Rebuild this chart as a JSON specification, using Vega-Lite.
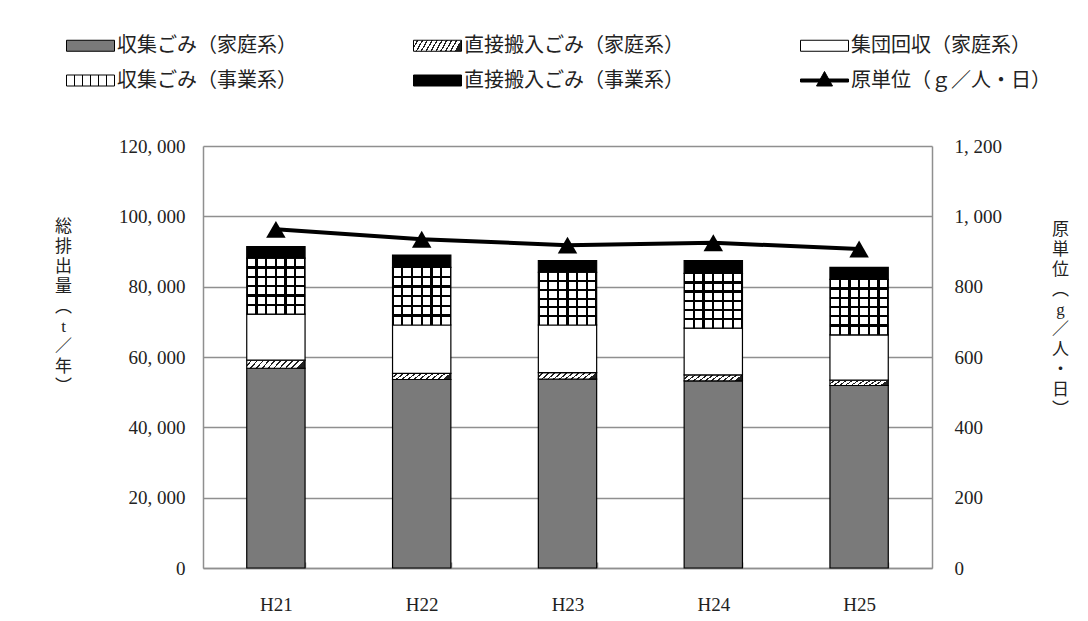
{
  "$schema": "https://vega.github.io/schema/vega-lite/v6.json",
  "width": 729,
  "height": 422,
  "autosize": {"type": "none"},
  "padding": {"left": 203, "top": 146, "right": 156, "bottom": 53},
  "background": "white",
  "config": {"view": {"stroke": null}, "font": "Liberation Serif, Noto Sans CJK JP"},
  "datasets": {
    "waste": [
      {"year": "H21", "series": "収集ごみ（家庭系）", "k": 1, "value": 56800},
      {"year": "H21", "series": "直接搬入ごみ（家庭系）", "k": 2, "value": 2300},
      {"year": "H21", "series": "集団回収（家庭系）", "k": 3, "value": 13100},
      {"year": "H21", "series": "収集ごみ（事業系）", "k": 4, "value": 15900},
      {"year": "H21", "series": "直接搬入ごみ（事業系）", "k": 5, "value": 3300},
      {"year": "H22", "series": "収集ごみ（家庭系）", "k": 1, "value": 53600},
      {"year": "H22", "series": "直接搬入ごみ（家庭系）", "k": 2, "value": 1750},
      {"year": "H22", "series": "集団回収（家庭系）", "k": 3, "value": 13750},
      {"year": "H22", "series": "収集ごみ（事業系）", "k": 4, "value": 16400},
      {"year": "H22", "series": "直接搬入ごみ（事業系）", "k": 5, "value": 3500},
      {"year": "H23", "series": "収集ごみ（家庭系）", "k": 1, "value": 53700},
      {"year": "H23", "series": "直接搬入ごみ（家庭系）", "k": 2, "value": 1850},
      {"year": "H23", "series": "集団回収（家庭系）", "k": 3, "value": 13550},
      {"year": "H23", "series": "収集ごみ（事業系）", "k": 4, "value": 15000},
      {"year": "H23", "series": "直接搬入ごみ（事業系）", "k": 5, "value": 3300},
      {"year": "H24", "series": "収集ごみ（家庭系）", "k": 1, "value": 53200},
      {"year": "H24", "series": "直接搬入ごみ（家庭系）", "k": 2, "value": 1700},
      {"year": "H24", "series": "集団回収（家庭系）", "k": 3, "value": 13300},
      {"year": "H24", "series": "収集ごみ（事業系）", "k": 4, "value": 15600},
      {"year": "H24", "series": "直接搬入ごみ（事業系）", "k": 5, "value": 3600},
      {"year": "H25", "series": "収集ごみ（家庭系）", "k": 1, "value": 51900},
      {"year": "H25", "series": "直接搬入ごみ（家庭系）", "k": 2, "value": 1500},
      {"year": "H25", "series": "集団回収（家庭系）", "k": 3, "value": 12900},
      {"year": "H25", "series": "収集ごみ（事業系）", "k": 4, "value": 15800},
      {"year": "H25", "series": "直接搬入ごみ（事業系）", "k": 5, "value": 3400}
    ],
    "rate": [
      {"year": "H21", "rate": 963},
      {"year": "H22", "rate": 935},
      {"year": "H23", "rate": 918},
      {"year": "H24", "rate": 925},
      {"year": "H25", "rate": 907}
    ]
  },
  "layer": [
    {
      "data": {"name": "waste"},
      "mark": {"type": "bar", "stroke": "black", "strokeWidth": 1.2},
      "encoding": {
        "x": {
          "field": "year", "type": "nominal",
          "scale": {"paddingInner": 0.6, "paddingOuter": 0.3},
          "axis": {
            "title": null, "labelAngle": 0, "labelFont": "Liberation Serif", "labelFontSize": 19, "labelColor": "#222",
            "tickBand": "extent", "tickSize": -6, "tickColor": "#8f8f8f", "tickWidth": 1.5,
            "domainColor": "#8f8f8f", "domainWidth": 1.5, "labelPadding": 33
          }
        },
        "y": {
          "field": "value", "type": "quantitative", "stack": "zero",
          "scale": {"domain": [0, 120000], "nice": false},
          "axis": {
            "orient": "left",
            "values": [0, 20000, 40000, 60000, 80000, 100000, 120000],
            "format": ",d",
            "labelExpr": "replace(datum.label, ',', ', ')",
            "labelFont": "Liberation Serif", "labelFontSize": 19, "labelColor": "#222",
            "ticks": false, "labelPadding": 18,
            "grid": true, "gridColor": "#8f8f8f", "gridWidth": 1.5,
            "domainColor": "#8f8f8f", "domainWidth": 1.5,
            "title": ["総", "排", "出", "量", "︵", "t", "／", "年", "︶"],
            "titleAngle": 0, "titleAlign": "center", "titleBaseline": "top",
            "titleX": -140, "titleY": 72, "titleLineHeight": 20,
            "titleFont": "Liberation Serif, Noto Sans CJK JP", "titleFontSize": 17, "titleFontWeight": "normal", "titleColor": "#222"
          }
        },
        "fill": {
          "field": "series", "type": "nominal",
          "scale": {
            "domain": ["収集ごみ（家庭系）", "直接搬入ごみ（家庭系）", "集団回収（家庭系）", "収集ごみ（事業系）", "直接搬入ごみ（事業系）", "原単位（ｇ／人・日）"],
            "range": [
              "#7a7a7a",
              {"expr": "{gradient:'linear',x1:0,y1:0,x2:1,y2:0.13,stops:[{offset:0,color:'#ffffff'},{offset:0.07,color:'#ffffff'},{offset:0.07,color:'#222222'},{offset:0.1,color:'#222222'},{offset:0.1,color:'#ffffff'},{offset:0.17,color:'#ffffff'},{offset:0.17,color:'#222222'},{offset:0.2,color:'#222222'},{offset:0.2,color:'#ffffff'},{offset:0.27,color:'#ffffff'},{offset:0.27,color:'#222222'},{offset:0.3,color:'#222222'},{offset:0.3,color:'#ffffff'},{offset:0.37,color:'#ffffff'},{offset:0.37,color:'#222222'},{offset:0.4,color:'#222222'},{offset:0.4,color:'#ffffff'},{offset:0.47,color:'#ffffff'},{offset:0.47,color:'#222222'},{offset:0.5,color:'#222222'},{offset:0.5,color:'#ffffff'},{offset:0.57,color:'#ffffff'},{offset:0.57,color:'#222222'},{offset:0.6,color:'#222222'},{offset:0.6,color:'#ffffff'},{offset:0.67,color:'#ffffff'},{offset:0.67,color:'#222222'},{offset:0.7,color:'#222222'},{offset:0.7,color:'#ffffff'},{offset:0.77,color:'#ffffff'},{offset:0.77,color:'#222222'},{offset:0.8,color:'#222222'},{offset:0.8,color:'#ffffff'},{offset:0.87,color:'#ffffff'},{offset:0.87,color:'#222222'},{offset:0.9,color:'#222222'},{offset:0.9,color:'#ffffff'},{offset:0.97,color:'#ffffff'},{offset:0.97,color:'#222222'},{offset:1,color:'#222222'}]}"},
              "#ffffff",
              {"expr": "{gradient:'linear',x1:0,y1:0,x2:1,y2:0,stops:[{offset:0,color:'#000000'},{offset:0.02,color:'#000000'},{offset:0.02,color:'#ffffff'},{offset:0.147,color:'#ffffff'},{offset:0.147,color:'#000000'},{offset:0.187,color:'#000000'},{offset:0.187,color:'#ffffff'},{offset:0.313,color:'#ffffff'},{offset:0.313,color:'#000000'},{offset:0.353,color:'#000000'},{offset:0.353,color:'#ffffff'},{offset:0.48,color:'#ffffff'},{offset:0.48,color:'#000000'},{offset:0.52,color:'#000000'},{offset:0.52,color:'#ffffff'},{offset:0.647,color:'#ffffff'},{offset:0.647,color:'#000000'},{offset:0.687,color:'#000000'},{offset:0.687,color:'#ffffff'},{offset:0.813,color:'#ffffff'},{offset:0.813,color:'#000000'},{offset:0.853,color:'#000000'},{offset:0.853,color:'#ffffff'},{offset:0.98,color:'#ffffff'},{offset:0.98,color:'#000000'},{offset:1,color:'#000000'}]}"},
              "#000000",
              "#000000"
            ]
          },
          "legend": {
            "title": null, "orient": "none", "legendX": -137, "legendY": -111,
            "columns": 3, "direction": "horizontal", "columnPadding": 114, "rowPadding": 13, "padding": 0,
            "symbolType": "M-1,-0.55H3.8V0.55H-1Z", "symbolSize": 400,
            "symbolStrokeColor": "#000000", "symbolStrokeWidth": 1,
            "labelFont": "Noto Sans CJK JP", "labelFontSize": 20, "labelColor": "#222", "labelOffset": 30, "labelLimit": 400,
            "encode": {
              "symbols": {
                "update": {
                  "shape": [
                    {"test": "datum.value === '原単位（ｇ／人・日）'", "value": "M-1,-0.15H3.8V0.15H-1Z M1.4,-0.9L2.2,0.55H0.6Z"},
                    {"value": "M-1,-0.55H3.8V0.55H-1Z"}
                  ],
                  "stroke": {"value": "#000000"},
                  "strokeWidth": {"value": 1}
                }
              }
            }
          }
        },
        "order": {"field": "k", "type": "quantitative"}
      }
    },
    {
      "data": {"name": "waste"},
      "mark": {"type": "bar", "strokeWidth": 0},
      "encoding": {
        "x": {"field": "year", "type": "nominal"},
        "y": {"field": "value", "type": "quantitative", "stack": "zero", "scale": {"domain": [0, 120000], "nice": false}, "axis": null},
        "detail": {"field": "series", "type": "nominal"},
        "order": {"field": "k", "type": "quantitative"},
        "fill": {
          "condition": {
            "test": "datum.series === '収集ごみ（事業系）'",
            "value": {"gradient": "linear", "x1": 0, "y1": 0, "x2": 0, "y2": 1, "stops": [
              {"offset": 0, "color": "rgba(0,0,0,0)"}, {"offset": 0.147, "color": "rgba(0,0,0,0)"}, {"offset": 0.147, "color": "#000000"}, {"offset": 0.187, "color": "#000000"},
              {"offset": 0.187, "color": "rgba(0,0,0,0)"}, {"offset": 0.313, "color": "rgba(0,0,0,0)"}, {"offset": 0.313, "color": "#000000"}, {"offset": 0.353, "color": "#000000"},
              {"offset": 0.353, "color": "rgba(0,0,0,0)"}, {"offset": 0.48, "color": "rgba(0,0,0,0)"}, {"offset": 0.48, "color": "#000000"}, {"offset": 0.52, "color": "#000000"},
              {"offset": 0.52, "color": "rgba(0,0,0,0)"}, {"offset": 0.647, "color": "rgba(0,0,0,0)"}, {"offset": 0.647, "color": "#000000"}, {"offset": 0.687, "color": "#000000"},
              {"offset": 0.687, "color": "rgba(0,0,0,0)"}, {"offset": 0.813, "color": "rgba(0,0,0,0)"}, {"offset": 0.813, "color": "#000000"}, {"offset": 0.853, "color": "#000000"},
              {"offset": 0.853, "color": "rgba(0,0,0,0)"}, {"offset": 1, "color": "rgba(0,0,0,0)"}
            ]}
          },
          "value": "transparent"
        }
      }
    },
    {
      "data": {"name": "rate"},
      "mark": {"type": "line", "color": "#000000", "strokeWidth": 4, "point": {"shape": "triangle-up", "size": 380, "filled": true, "color": "#000000"}},
      "encoding": {
        "x": {"field": "year", "type": "nominal"},
        "y": {
          "field": "rate", "type": "quantitative",
          "scale": {"domain": [0, 1200], "nice": false},
          "axis": {
            "orient": "right",
            "values": [0, 200, 400, 600, 800, 1000, 1200],
            "format": ",d",
            "labelExpr": "replace(datum.label, ',', ', ')",
            "labelFont": "Liberation Serif", "labelFontSize": 19, "labelColor": "#222",
            "ticks": false, "labelPadding": 22, "grid": false,
            "domainColor": "#8f8f8f", "domainWidth": 1.5,
            "title": ["原", "単", "位", "︵", "g", "／", "人", "・", "日", "︶"],
            "titleAngle": 0, "titleAlign": "center", "titleBaseline": "top",
            "titleX": 128, "titleY": 75, "titleLineHeight": 20,
            "titleFont": "Liberation Serif, Noto Sans CJK JP", "titleFontSize": 17, "titleFontWeight": "normal", "titleColor": "#222"
          }
        }
      }
    }
  ],
  "resolve": {"scale": {"y": "independent"}}
}
